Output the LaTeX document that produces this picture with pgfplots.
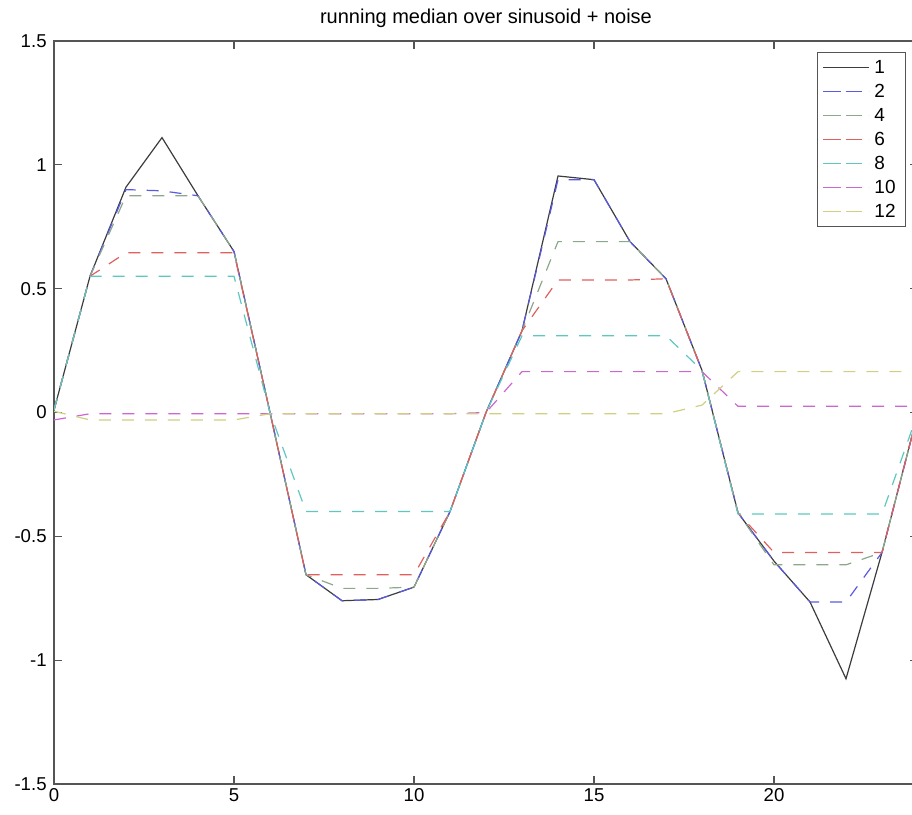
\documentclass[border=0pt]{standalone}
\usepackage{pgfplots}
\usepackage{pgfplotstable}
\usepackage{fontspec}
\pgfplotsset{compat=1.18}
\setmainfont{Liberation Sans}
\definecolor{SerK}{HTML}{3C3C3C}
\definecolor{SerB}{HTML}{5A5AE0}
\definecolor{SerG}{HTML}{8CA88C}
\definecolor{SerR}{HTML}{E06060}
\definecolor{SerC}{HTML}{5CC8C0}
\definecolor{SerM}{HTML}{CC66D0}
\definecolor{SerY}{HTML}{D0D080}
\definecolor{AxGray}{HTML}{555555}

% running medians, window 1..12
\pgfplotstableread{
x   w1     w2     w4     w6     w8     w10    w12
0   0.01   0.01   0.01   0.01   0.01   -0.03  0.005
1   0.55   0.55   0.55   0.55   0.55   -0.005 -0.03
2   0.91   0.90   0.875  0.645  0.55   -0.005 -0.03
3   1.11   0.895  0.875  0.645  0.55   -0.005 -0.03
4   0.875  0.875  0.875  0.645  0.55   -0.005 -0.03
5   0.65   0.65   0.65   0.645  0.55   -0.005 -0.03
6   0.0    0.0    0.0    0.0    0.0    -0.005 -0.005
7   -0.655 -0.655 -0.655 -0.655 -0.40  -0.005 -0.005
8   -0.76  -0.76  -0.71  -0.655 -0.40  -0.005 -0.005
9   -0.755 -0.755 -0.71  -0.655 -0.40  -0.005 -0.005
10  -0.705 -0.705 -0.705 -0.655 -0.40  -0.005 -0.005
11  -0.40  -0.40  -0.40  -0.40  -0.40  -0.005 -0.005
12  0.0    0.0    0.0    0.0    0.0    0.0    -0.005
13  0.33   0.33   0.33   0.33   0.31   0.165  -0.005
14  0.955  0.94   0.69   0.535  0.31   0.165  -0.005
15  0.94   0.94   0.69   0.535  0.31   0.165  -0.005
16  0.69   0.69   0.69   0.535  0.31   0.165  -0.005
17  0.54   0.54   0.54   0.54   0.31   0.165  -0.005
18  0.17   0.17   0.17   0.17   0.17   0.165  0.03
19  -0.405 -0.405 -0.405 -0.405 -0.41  0.025  0.165
20  -0.60  -0.60  -0.615 -0.565 -0.41  0.025  0.165
21  -0.765 -0.765 -0.615 -0.565 -0.41  0.025  0.165
22  -1.075 -0.765 -0.615 -0.565 -0.41  0.025  0.165
23  -0.565 -0.565 -0.565 -0.565 -0.41  0.025  0.165
24  0.0    0.0    0.0    0.0    0.0    0.025  0.165
}\medtable

\pgfplotsset{
  medline/.style={line width=0.6pt, color=#1},
  meddash/.style={medline=#1, dash pattern=on 6pt off 5.5pt},
  % legend sample drawn with its own colour, not the plot style
  medkey/.style 2 args={legend image code/.code={%
    \draw[color=#1, line width=0.9pt, #2] (0pt,0pt) -- (16.5pt,0pt);
    \path (-3pt,0pt) -- (20pt,0pt);}},
}

\begin{document}
\begin{tikzpicture}
\begin{axis}[
  name=ax,
  scale only axis,
  width=432pt, height=371.5pt,
  xmin=0, xmax=24, ymin=-1.5, ymax=1.5,
  xtick={0,5,10,15,20}, xticklabels={0,5,10,15,20},
  ytick={-1.5,-1,-0.5,0,0.5,1,1.5},
  yticklabels={-1.5,-1,-0.5,0,0.5,1,1.5},
  tick align=inside, tick pos=both, major tick length=4pt,
  axis line style={draw=AxGray, line width=0.6pt},
  tick style={draw=AxGray, line width=0.6pt},
  ticklabel style={font=\fontsize{9.3}{11}\selectfont, text=black},
  xticklabel style={inner sep=0pt, yshift=-2pt},
  yticklabel style={inner sep=0pt, xshift=-3.5pt},
  title={running median over sinusoid + noise},
  every axis title/.style={font=\fontsize{10}{12}\selectfont, at={(0.5,1)}, anchor=base, yshift=8.5pt},
  legend cell align=left,
  legend style={name=leg, at={(1,1)}, anchor=north east, xshift=-6.5pt, yshift=-5.85pt,
    draw=none, fill=white, font=\fontsize{9.5}{11}\selectfont,
    row sep=0pt, inner xsep=2pt, inner ysep=1.2pt,
    nodes={text height=7pt, text depth=1pt, inner xsep=2.5pt, inner ysep=2pt}},
]
\addplot[medline=SerK, medkey={SerK}{solid}] table[x=x, y=w1] {\medtable};
\addplot[meddash=SerB, medkey={SerB}{dash pattern=on 6pt off 5.5pt}] table[x=x, y=w2] {\medtable};
\addplot[meddash=SerG, medkey={SerG}{dash pattern=on 6pt off 5.5pt}] table[x=x, y=w4] {\medtable};
\addplot[meddash=SerR, medkey={SerR}{dash pattern=on 6pt off 5.5pt}] table[x=x, y=w6] {\medtable};
\addplot[meddash=SerC, medkey={SerC}{dash pattern=on 6pt off 5.5pt}] table[x=x, y=w8] {\medtable};
\addplot[meddash=SerM, medkey={SerM}{dash pattern=on 6pt off 5.5pt}] table[x=x, y=w10] {\medtable};
\addplot[meddash=SerY, medkey={SerY}{dash pattern=on 6pt off 5.5pt}] table[x=x, y=w12] {\medtable};
\legend{1,2,4,6,8,10,12}
\end{axis}
\draw[AxGray, line width=0.5pt] (leg.south west) rectangle (leg.north east);
\pgfresetboundingbox
\path ([xshift=-27pt,yshift=-15pt]ax.south west) rectangle ([xshift=-3pt,yshift=20.5pt]ax.north east);
\end{tikzpicture}
\end{document}
